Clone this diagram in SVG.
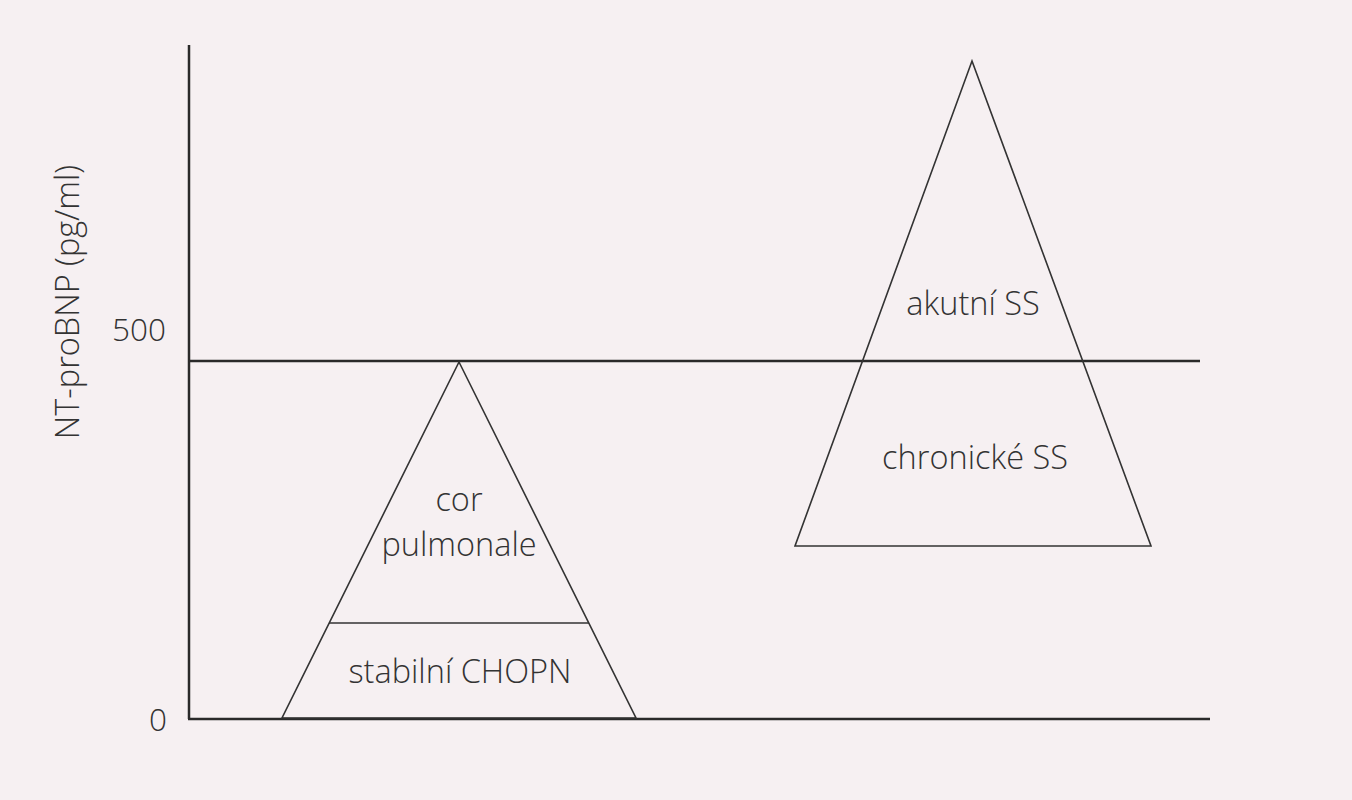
<svg xmlns="http://www.w3.org/2000/svg" width="1352" height="800" viewBox="0 0 1352 800">
<style>
.ax{stroke:#2a2a2a;stroke-width:2.5;fill:none}
.tri{stroke:#333;stroke-width:1.6;fill:none;stroke-linejoin:miter}
.t{font-family:"Open Sans","Liberation Sans",sans-serif;font-size:32.5px;font-weight:300;fill:#333;text-anchor:middle}
</style>
<rect width="1352" height="800" fill="#f6f0f2"/>
<g id="axes">
<line class="ax" x1="189" y1="45" x2="189" y2="719"/>
<line class="ax" x1="188" y1="719" x2="1210" y2="719"/>
<line class="ax" x1="189" y1="361" x2="1200" y2="361"/>
<text class="t" x="139" y="341" style="font-size:31.5px">500</text>
<text class="t" x="158" y="731" style="font-size:31.5px">0</text>
<text class="t" transform="translate(79,302) rotate(-90)">NT-proBNP (pg/ml)</text>
</g>
<g id="left-pyramid">
<polygon class="tri" points="459,362 636,718 282,718"/>
<line class="tri" x1="329" y1="623" x2="589" y2="623"/>
<text class="t" x="459" y="511">cor</text>
<text class="t" x="459" y="556">pulmonale</text>
<text class="t" x="460" y="683">stabilní CHOPN</text>
</g>
<g id="right-pyramid">
<polygon class="tri" points="972,61 1151,546 795,546"/>
<text class="t" x="973" y="315">akutní SS</text>
<text class="t" x="975" y="469">chronické SS</text>
</g>
</svg>
